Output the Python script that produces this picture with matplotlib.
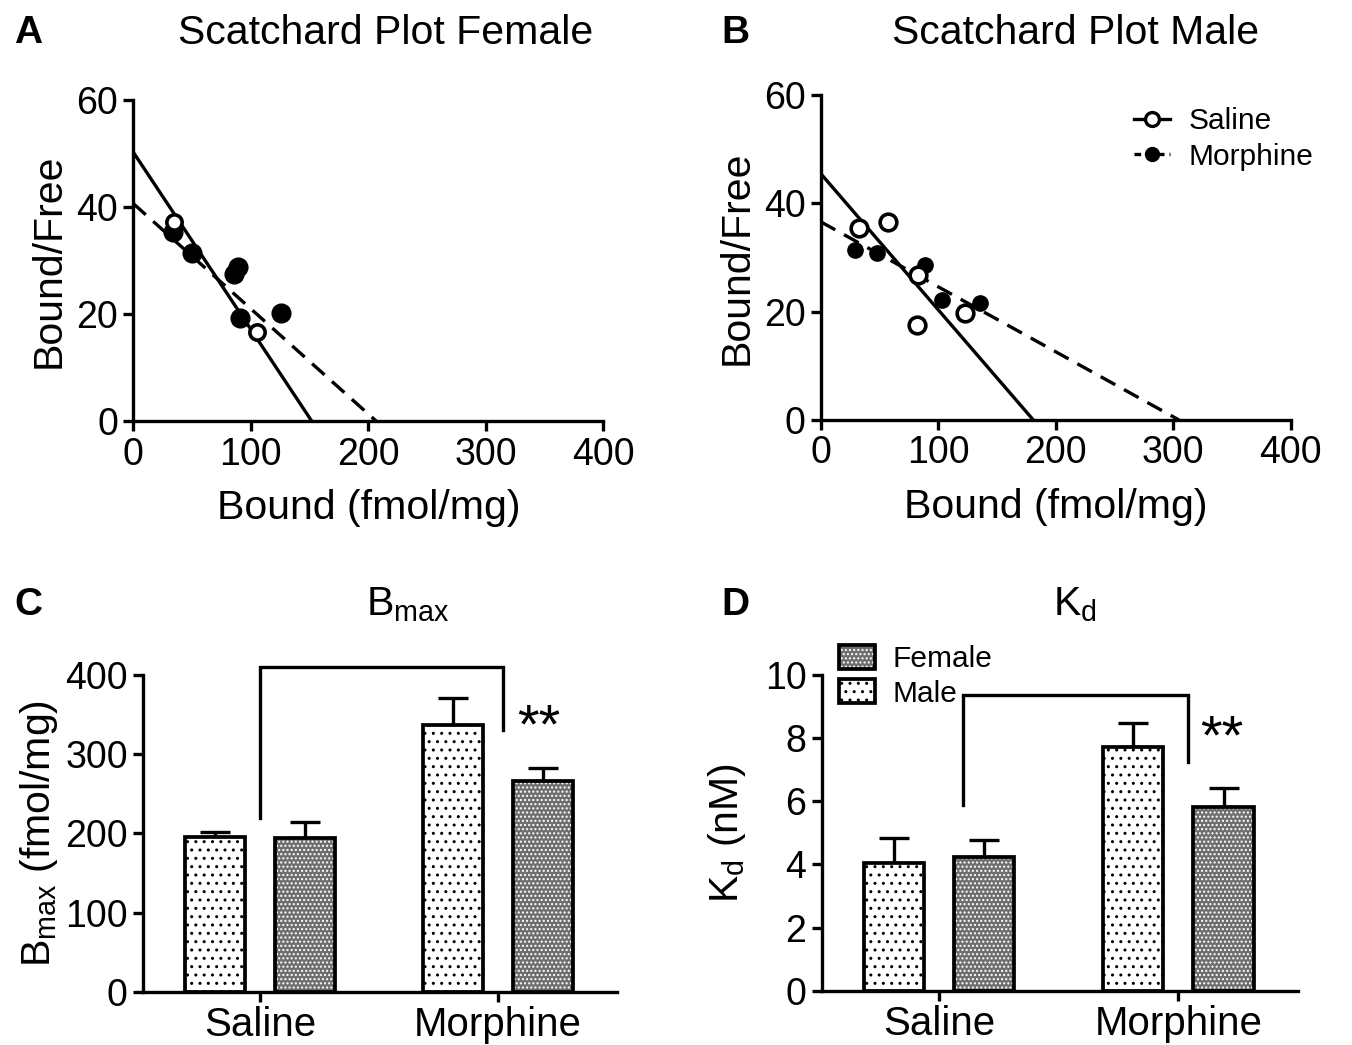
import matplotlib.pyplot as plt
from matplotlib.lines import Line2D
from matplotlib.patches import Patch

plt.rcParams['font.family'] = ['Liberation Sans', 'DejaVu Sans']
plt.rcParams['mathtext.default'] = 'regular'
plt.rcParams['hatch.linewidth'] = 1.0

# Scatchard data (Bound fmol/mg, Bound/Free)
fem_sal_x = [35, 105]
fem_sal_y = [37.3, 16.7]
fem_mor_x = [34, 50, 86, 89, 91, 126]
fem_mor_y = [35.4, 31.4, 27.5, 28.8, 19.3, 20.3]
fem_sal_line = [[0, 152], [50.3, 0]]
fem_mor_line = [[0, 207], [40.7, 0]]

male_sal_x = [33, 57, 83, 82, 123]
male_sal_y = [35.4, 36.6, 26.8, 17.5, 19.8]
male_mor_x = [29, 48, 89, 103, 136]
male_mor_y = [31.4, 30.8, 28.6, 22.2, 21.6]
male_sal_line = [[0, 181], [45.5, 0]]
male_mor_line = [[0, 305], [36.6, 0]]

# Bar data
groups = ['Saline', 'Morphine']
bmax_male = [195, 337]
bmax_male_err = [7, 34]
bmax_female = [194, 266]
bmax_female_err = [21, 17]
kd_male = [4.05, 7.73]
kd_male_err = [0.78, 0.74]
kd_female = [4.24, 5.83]
kd_female_err = [0.53, 0.58]

# brackets: (left x, left bottom, top, right x, right bottom), star position
bmax_bracket = [0.0, 219, 410, 1.02, 330]
bmax_star = [1.17, 333]
kd_bracket = [0.1, 5.88, 9.37, 1.04, 7.25]
kd_star = [1.18, 7.95]

LW = 2.4
TICK_FS = 27
LABEL_FS = 29.5

fig = plt.figure(figsize=(13.52, 10.45), dpi=100)

axA = fig.add_axes([0.0986, 0.5968, 0.3476, 0.3072])
axB = fig.add_axes([0.6070, 0.5981, 0.3476, 0.3110])
axC = fig.add_axes([0.1058, 0.0510, 0.3506, 0.3030])
axD = fig.add_axes([0.6078, 0.0520, 0.3523, 0.3020])


def style(ax):
    for s in ['top', 'right']:
        ax.spines[s].set_visible(False)
    for s in ['left', 'bottom']:
        ax.spines[s].set_linewidth(LW)
    ax.tick_params(width=LW, length=7, labelsize=TICK_FS, direction='out', pad=4)


def scatchard(ax, sal_x, sal_y, mor_x, mor_y, sal_line, mor_line, ms_f, ms_o):
    ax.plot(sal_line[0], sal_line[1], color='black', lw=LW, solid_capstyle='butt')
    ax.plot(mor_line[0], mor_line[1], color='black', lw=LW, linestyle=(0, (5, 3)))
    ax.plot(mor_x, mor_y, 'o', color='black', ms=ms_f, zorder=3)
    ax.plot(sal_x, sal_y, 'o', mfc='white', mec='black', mew=2.6, ms=ms_o, zorder=4)
    ax.set_xlim(0, 400)
    ax.set_ylim(0, 60)
    ax.set_xticks([0, 100, 200, 300, 400])
    ax.set_yticks([0, 20, 40, 60])
    ax.set_xlabel('Bound (fmol/mg)', fontsize=LABEL_FS, labelpad=12)
    ax.set_ylabel('Bound/Free', fontsize=LABEL_FS, labelpad=6)
    style(ax)


scatchard(axA, fem_sal_x, fem_sal_y, fem_mor_x, fem_mor_y, fem_sal_line, fem_mor_line, 13.5, 11)
scatchard(axB, male_sal_x, male_sal_y, male_mor_x, male_mor_y, male_sal_line, male_mor_line, 11, 12)

leg_handles = [
    Line2D([], [], color='black', lw=LW, marker='o', mfc='white', mec='black', mew=2.4, ms=10),
    Line2D([], [], color='black', lw=LW, linestyle=(0, (2, 1.5)), marker='o', ms=10),
]
axB.legend(leg_handles, ['Saline', 'Morphine'], loc='upper right', bbox_to_anchor=(1.105, 1.045),
           frameon=False, fontsize=21.5, handlelength=1.2, handletextpad=0.6, labelspacing=0.25)

MALE_STYLE = dict(facecolor='white', edgecolor='black', hatch='..')
FEM_FACE = '#6e6e6e'
FEM_HATCH = '....'


def bars(ax, male, male_err, female, female_err):
    x = list(range(len(groups)))
    w = 0.252
    off = 0.189
    xm = [i - off for i in x]
    xf = [i + off for i in x]
    ax.errorbar(xm, male, yerr=[[0] * len(male), male_err], fmt='none', ecolor='black',
                elinewidth=LW, capsize=11, capthick=LW, zorder=1)
    ax.errorbar(xf, female, yerr=[[0] * len(female), female_err], fmt='none', ecolor='black',
                elinewidth=LW, capsize=11, capthick=LW, zorder=1)
    ax.bar(xm, male, width=w, linewidth=2.7, zorder=2, **MALE_STYLE)
    ax.bar(xf, female, width=w, facecolor=FEM_FACE, edgecolor='white', hatch=FEM_HATCH, linewidth=0, zorder=2)
    ax.bar(xf, female, width=w, fill=False, edgecolor='black', linewidth=2.7, zorder=3)
    ax.set_xticks(x)
    ax.set_xlim(-0.49, 1.5)
    style(ax)
    ax.set_xticklabels(groups, fontsize=29)
    ax.tick_params(axis='x', pad=3)


bars(axC, bmax_male, bmax_male_err, bmax_female, bmax_female_err)
axC.set_ylim(0, 400)
axC.set_yticks([0, 100, 200, 300, 400])
axC.set_ylabel('B$_{max}$ (fmol/mg)', fontsize=LABEL_FS, labelpad=4)

bars(axD, kd_male, kd_male_err, kd_female, kd_female_err)
axD.set_ylim(0, 10)
axD.set_yticks([0, 2, 4, 6, 8, 10])
axD.set_ylabel('K$_d$ (nM)', fontsize=LABEL_FS, labelpad=12)


def bracket(ax, br, star):
    lx, lb, top, rx, rb = br
    ax.plot([lx, lx, rx, rx], [lb, top, top, rb], color='black', lw=LW, clip_on=False,
            solid_joinstyle='miter', zorder=4)
    ax.text(star[0], star[1], '**', fontsize=40, ha='center', va='center')


bracket(axC, bmax_bracket, bmax_star)
bracket(axD, kd_bracket, kd_star)

fem_handle = (Patch(facecolor=FEM_FACE, edgecolor='white', hatch=FEM_HATCH, linewidth=0),
              Patch(fill=False, edgecolor='black', linewidth=2.7))
male_handle = Patch(linewidth=2.7, **MALE_STYLE)
axD.legend([fem_handle, male_handle], ['Female', 'Male'], loc='upper left',
           bbox_to_anchor=(-0.02, 1.18), frameon=False, fontsize=21.5, handlelength=1.2,
           handleheight=0.85, handletextpad=0.6, labelspacing=0.2)

# titles and panel letters
fig.text(386 / 1352, 1 - 33 / 1045, 'Scatchard Plot Female', fontsize=LABEL_FS, ha='center', va='center')
fig.text(1076 / 1352, 1 - 33 / 1045, 'Scatchard Plot Male', fontsize=LABEL_FS, ha='center', va='center')
fig.text(408 / 1352, 1 - 605 / 1045, 'B$_{max}$', fontsize=LABEL_FS, ha='center', va='center')
fig.text(1075 / 1352, 1 - 605 / 1045, 'K$_d$', fontsize=LABEL_FS, ha='center', va='center')
for lbl, px, py in [('A', 28, 33), ('B', 735, 33), ('C', 28, 605), ('D', 735, 605)]:
    fig.text(px / 1352, 1 - py / 1045, lbl, fontsize=28, fontweight='bold', ha='center', va='center')

fig.savefig('out.png', dpi=100)
